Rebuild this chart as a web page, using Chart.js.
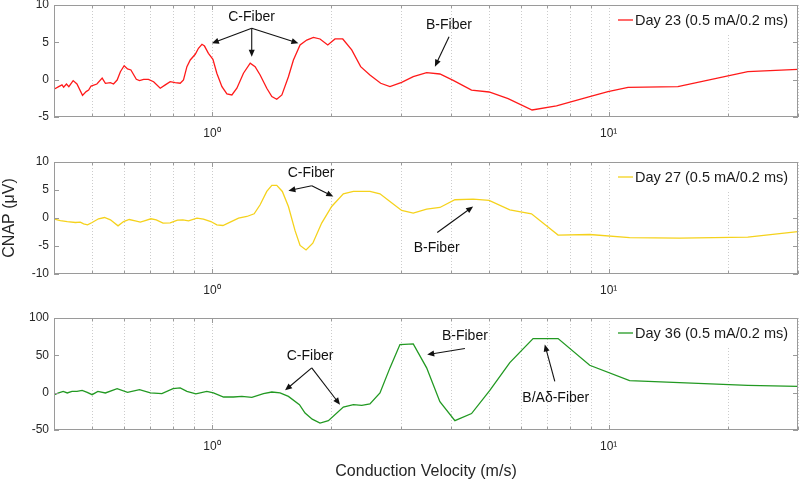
<!DOCTYPE html>
<html>
<head>
<meta charset="utf-8">
<script src="https://cdn.jsdelivr.net/npm/chart.js@4.4.1/dist/chart.umd.min.js"></script>
<style>
html, body { margin: 0; padding: 0; background: #fff; }
#wrap { position: relative; width: 800px; height: 481px; }
#wrap canvas { position: absolute; left: 0; top: 0; }
</style>
</head>
<body>
<div id="wrap">
    <canvas id="day23Chart" width="800" height="481"></canvas>
    <canvas id="day27Chart" width="800" height="481"></canvas>
    <canvas id="day36Chart" width="800" height="481"></canvas>
</div>
<script>
// conduction velocity (m/s) and CNAP (uV)
const day23Velocity = [0.401, 0.411, 0.419, 0.423, 0.430, 0.436, 0.447, 0.457, 0.472, 0.482,
    0.489, 0.496, 0.513, 0.529, 0.539, 0.555, 0.565, 0.577, 0.588, 0.601,
    0.613, 0.625, 0.645, 0.657, 0.673, 0.692, 0.713, 0.741, 0.763, 0.785,
    0.808, 0.832, 0.848, 0.865, 0.882, 0.908, 0.925, 0.944, 0.958, 0.980,
    1.006, 1.029, 1.060, 1.091, 1.123, 1.156, 1.201, 1.249, 1.285, 1.323,
    1.375, 1.416, 1.457, 1.501, 1.559, 1.605, 1.668, 1.734, 1.802, 1.873,
    1.959, 2.043, 2.137, 2.251, 2.371, 2.502, 2.663, 2.810, 3.008, 3.217,
    3.477, 3.755, 4.057, 4.512, 4.996, 5.579, 6.412, 7.387, 8.957, 9.96,
    11.19, 14.94, 22.42, 29.96];
const day23Cnap = [-1.25, -0.93, -0.7, -1.0, -0.58, -0.93, -0.13, -0.58, -2.1, -1.6,
    -1.4, -0.85, -0.58, 0.2, -0.5, -0.4, -0.58, -0.05, 1.07, 1.87,
    1.43, 1.3, 0.05, -0.13, 0.05, 0.05, -0.27, -1.15, -0.7, -0.27,
    -0.4, -0.48, -0.04, 1.74, 2.64, 3.4, 4.2, 4.74, 4.5, 3.53,
    2.73, 0.86, -0.93, -1.9, -2.05, -1.15, 0.86, 2.2, 1.74, 0.63,
    -1.15, -2.27, -2.63, -2.05, 0.4, 2.64, 4.65, 5.3, 5.67, 5.45,
    4.65, 5.45, 5.45, 3.98, 1.74, 0.63, -0.48, -0.93, -0.35, 0.4,
    0.94, 0.76, -0.1, -1.4, -1.65, -2.55, -4.06, -3.52, -2.27, -1.6,
    -1.02, -0.93, 1.07, 1.39];

const day27Velocity = [0.401, 0.415, 0.432, 0.453, 0.466, 0.475, 0.486, 0.499, 0.518, 0.536,
    0.555, 0.580, 0.599, 0.619, 0.641, 0.660, 0.679, 0.702, 0.724, 0.753,
    0.785, 0.819, 0.845, 0.873, 0.917, 0.952, 0.994, 1.029, 1.066, 1.112,
    1.167, 1.225, 1.278, 1.323, 1.375, 1.416, 1.457, 1.505, 1.559, 1.621,
    1.668, 1.727, 1.796, 1.891, 2.004, 2.144, 2.273, 2.502, 2.652, 2.810,
    3.008, 3.217, 3.477, 3.755, 4.097, 4.554, 4.996, 5.634, 6.389, 7.456,
    8.957, 11.29, 15.09, 22.42, 29.96];
const day27Cnap = [-0.2, -0.45, -0.63, -0.8, -0.73, -1.04, -1.22, -0.8, -0.14, 0.09,
    -0.32, -1.4, -0.63, -0.27, -0.5, -0.73, -0.45, -0.14, -0.32, -0.91,
    -0.86, -0.38, -0.32, -0.5, -0.02, -0.2, -0.63, -1.22, -1.34, -0.73,
    -0.02, 0.27, 0.75, 2.36, 4.74, 5.82, 5.82, 4.74, 2.06, -2.3,
    -4.9, -5.7, -4.5, -0.91, 2.06, 4.33, 4.74, 4.74, 4.33, 2.95,
    1.34, 0.88, 1.59, 1.88, 3.26, 3.38, 3.13, 1.47, 0.75, -3.05,
    -2.95, -3.49, -3.6, -3.42, -2.42];

const day36Velocity = [0.401, 0.411, 0.422, 0.432, 0.444, 0.457, 0.471, 0.485, 0.499, 0.516,
    0.539, 0.577, 0.613, 0.657, 0.700, 0.748, 0.798, 0.832, 0.865, 0.911,
    0.971, 1.009, 1.070, 1.133, 1.190, 1.261, 1.349, 1.416, 1.485, 1.559,
    1.662, 1.717, 1.79, 1.873, 1.966, 2.144, 2.273, 2.386, 2.502, 2.652, 2.810,
    2.978, 3.217, 3.477, 3.755, 4.097, 4.512, 5.017, 5.634, 6.449, 7.456,
    8.957, 11.29, 22.42, 29.96];
const day36Cnap = [-2.7, -0.4, 1.7, -0.4, 1.7, 1.7, 3.1, 0.4, -2.7, 1.7,
    -0.4, 5.4, 0.4, 4.0, -0.4, -1.3, 5.4, 6.3, 1.7, -1.7,
    1.7, -0.4, -5.8, -5.8, -5.0, -6.3, -1.3, 0.9, -0.4, -5.0,
    -16.1, -27.3, -35.5, -40.7, -37.6, -19.2, -16.1, -17.0, -15.2, -0.4, 33.2,
    64.5, 65.4, 33.2, -12.0, -37.4, -28.0, 3.0, 40.3, 72.5, 72.5,
    36.7, 16.1, 9.8, 8.5];

const xGridTicks = [0.5, 0.6, 0.7, 0.8, 0.9, 1, 2, 3, 4, 5, 6, 7, 8, 9, 10, 20, 30];
const panel1YTicks = [-5, 0, 5, 10];
const panel2YTicks = [-10, -5, 0, 5, 10];
const panel3YTicks = [-50, 0, 50, 100];

Chart.defaults.font.family = "'Liberation Sans', Arial, sans-serif";
Chart.defaults.color = '#262626';

function drawArrow(ctx, x1, y1, x2, y2) {
    const ang = Math.atan2(y2 - y1, x2 - x1);
    const len = 7, half = 3;
    ctx.beginPath();
    ctx.moveTo(x1, y1);
    ctx.lineTo(x2 - Math.cos(ang) * len * 0.8, y2 - Math.sin(ang) * len * 0.8);
    ctx.stroke();
    ctx.beginPath();
    ctx.moveTo(x2, y2);
    ctx.lineTo(x2 - Math.cos(ang) * len - Math.sin(ang) * half, y2 - Math.sin(ang) * len + Math.cos(ang) * half);
    ctx.lineTo(x2 - Math.cos(ang) * len + Math.sin(ang) * half, y2 - Math.sin(ang) * len - Math.cos(ang) * half);
    ctx.closePath();
    ctx.fill();
}

// grid, box, inner ticks, legend and fiber arrows
const panelPlugin = {
    id: 'panelPlugin',
    beforeDatasetsDraw(chart) {
        const {ctx, chartArea: area, scales: {x}} = chart;
        ctx.save();
        ctx.strokeStyle = '#cccccc';
        ctx.lineWidth = 1;
        ctx.setLineDash([1, 2]);
        for (const v of xGridTicks) {
            const px = Math.round(x.getPixelForValue(v)) + 0.5;
            ctx.beginPath();
            ctx.moveTo(px, area.top);
            ctx.lineTo(px, area.bottom);
            ctx.stroke();
        }
        ctx.restore();
    },
    afterDatasetsDraw(chart, args, opts) {
        const {ctx, chartArea: area, scales: {x, y}} = chart;
        ctx.save();

        // legend
        const ds = chart.data.datasets[0];
        const ly = area.top + 15;
        ctx.fillStyle = '#ffffff';
        ctx.fillRect(area.right - 186, area.top + 1, 185, 28);
        ctx.strokeStyle = ds.borderColor;
        ctx.lineWidth = 1.3;
        ctx.beginPath();
        ctx.moveTo(area.right - 180, ly);
        ctx.lineTo(area.right - 165, ly);
        ctx.stroke();
        ctx.fillStyle = '#1a1a1a';
        ctx.font = "14.5px 'Liberation Sans', Arial, sans-serif";
        ctx.textAlign = 'left';
        ctx.textBaseline = 'middle';
        ctx.fillText(ds.label, area.right - 163, ly + 1);

        // box and inner ticks
        ctx.strokeStyle = '#9a9a9a';
        ctx.lineWidth = 1;
        ctx.strokeRect(area.left + 0.5, area.top + 0.5, area.width - 1, area.height - 1);
        ctx.beginPath();
        for (const v of xGridTicks) {
            const px = Math.round(x.getPixelForValue(v)) + 0.5;
            const tl = (v === 1 || v === 10) ? 5 : 3;
            ctx.moveTo(px, area.bottom);
            ctx.lineTo(px, area.bottom - tl);
            if (px < area.right - 190) {
                ctx.moveTo(px, area.top);
                ctx.lineTo(px, area.top + tl);
            }
        }
        for (const t of y.ticks) {
            const py = Math.round(y.getPixelForValue(t.value)) + 0.5;
            ctx.moveTo(area.left, py);
            ctx.lineTo(area.left + 5, py);
            if (py > area.top + 30) {
                ctx.moveTo(area.right, py);
                ctx.lineTo(area.right - 5, py);
            }
        }
        ctx.stroke();

        // fiber labels and arrows
        ctx.strokeStyle = '#111111';
        ctx.fillStyle = '#111111';
        ctx.lineWidth = 1.1;
        for (const a of opts.arrows || []) {
            drawArrow(ctx, x.getPixelForValue(a.x1), y.getPixelForValue(a.y1),
                x.getPixelForValue(a.x2), y.getPixelForValue(a.y2));
        }
        ctx.font = "14px 'Liberation Sans', Arial, sans-serif";
        ctx.textAlign = 'center';
        ctx.textBaseline = 'middle';
        for (const t of opts.texts || []) {
            ctx.fillText(t.text, x.getPixelForValue(t.x), y.getPixelForValue(t.y));
        }
        ctx.restore();
    }
};

function makePanel(canvasId, label, color, velocity, cnap, yTicks, pad, xHeight, notes, yTitle, xTitle) {
    const ctx = document.getElementById(canvasId).getContext('2d');
    return new Chart(ctx, {
        type: 'scatter',
        data: {
            datasets: [{
                    label: label,
                    data: velocity.map((v, i) => ({x: v, y: cnap[i]})),
                    showLine: true,
                    borderColor: color,
                    borderWidth: 1.3,
                    pointRadius: 0,
                    tension: 0
                }]
        },
        options: {
            responsive: false,
            animation: false,
            events: [],
            layout: {padding: {left: 0, right: 2, top: pad[0], bottom: pad[1]}},
            plugins: {
                legend: {display: false},
                tooltip: {enabled: false},
                panelPlugin: notes
            },
            scales: {
                x: {
                    type: 'logarithmic',
                    min: 0.4,
                    max: 30,
                    afterBuildTicks: scale => {
                        scale.ticks = xGridTicks.map(v => ({value: v}));
                    },
                    afterFit: scale => {
                        scale.height = xHeight;
                        scale.paddingLeft = 0;
                        scale.paddingRight = 0;
                    },
                    grid: {display: false, drawTicks: false},
                    border: {display: false},
                    ticks: {
                        autoSkip: false,
                        maxRotation: 0,
                        padding: 9,
                        font: {size: 12},
                        callback: v => v === 1 ? '10\u2070' : (v === 10 ? '10\u00b9' : '')
                    },
                    title: {
                        display: !!xTitle,
                        text: xTitle || '',
                        font: {size: 16},
                        padding: {top: 0, bottom: 0}
                    }
                },
                y: {
                    min: yTicks[0],
                    max: yTicks[yTicks.length - 1],
                    afterBuildTicks: scale => {
                        scale.ticks = yTicks.map(v => ({value: v}));
                    },
                    afterFit: scale => {
                        scale.width = 54;
                        scale.paddingTop = 0;
                        scale.paddingBottom = 0;
                    },
                    grid: {display: false, drawTicks: false},
                    border: {display: false},
                    ticks: {padding: 5, font: {size: 12}},
                    title: {
                        display: !!yTitle,
                        text: yTitle || '',
                        font: {size: 16},
                        padding: {top: 0, bottom: 0}
                    }
                }
            }
        },
        plugins: [panelPlugin]
    });
}

makePanel('day23Chart', 'Day 23 (0.5 mA/0.2 ms)', '#ff1a1a', day23Velocity, day23Cnap, panel1YTicks,
    [5, 344], 20, {
        texts: [{x: 1.259, y: 8.39, text: 'C-Fiber'}, {x: 3.957, y: 7.32, text: 'B-Fiber'}],
        arrows: [
            {x1: 1.26, y1: 6.88, x2: 1.0, y2: 4.87},
            {x1: 1.26, y1: 6.88, x2: 1.26, y2: 3.08},
            {x1: 1.26, y1: 6.88, x2: 1.652, y2: 4.87},
            {x1: 3.96, y1: 5.76, x2: 3.648, y2: 1.74}
        ]
    });

makePanel('day27Chart', 'Day 27 (0.5 mA/0.2 ms)', '#f5d21c', day27Velocity, day27Cnap, panel2YTicks,
    [162, 187], 20, {
        texts: [{x: 1.778, y: 8.04, text: 'C-Fiber'}, {x: 3.685, y: -5.39, text: 'B-Fiber'}],
        arrows: [
            {x1: 1.785, y1: 5.77, x2: 1.559, y2: 4.87},
            {x1: 1.785, y1: 5.77, x2: 2.023, y2: 3.85},
            {x1: 3.698, y1: -2.6, x2: 4.554, y2: 2.06}
        ]
    }, 'CNAP (\u03bcV)');

makePanel('day36Chart', 'Day 36 (0.5 mA/0.2 ms)', '#229922', day36Velocity, day36Cnap, panel3YTicks,
    [318, 0], 51, {
        texts: [
            {x: 1.768, y: 48.8, text: 'C-Fiber'},
            {x: 4.341, y: 75.6, text: 'B-Fiber'},
            {x: 7.357, y: -7.1, text: 'B/A\u03b4-Fiber'}
        ],
        arrows: [
            {x1: 1.785, y1: 33.2, x2: 1.529, y2: 3.1},
            {x1: 1.785, y1: 33.2, x2: 2.103, y2: -16.1},
            {x1: 4.341, y1: 59.1, x2: 3.488, y2: 51.0},
            {x1: 7.315, y1: 15.2, x2: 6.902, y2: 64.5}
        ]
    }, null, 'Conduction Velocity (m/s)');
</script>
</body>
</html>
